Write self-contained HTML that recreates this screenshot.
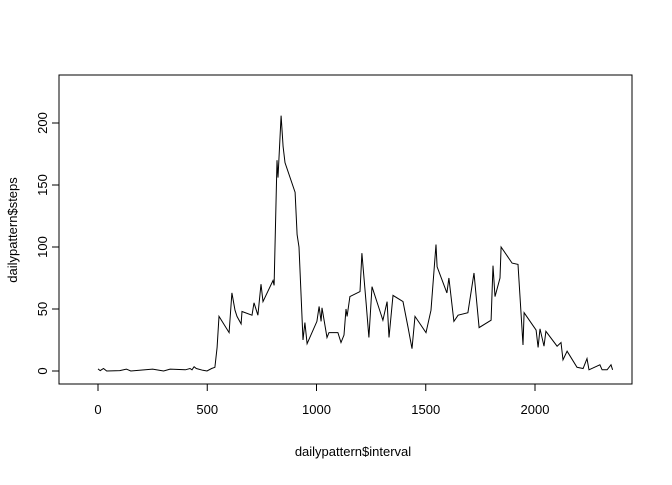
<!DOCTYPE html>
<html><head><meta charset="utf-8"><style>
body{margin:0;background:#fff}
svg text{font-family:"Liberation Sans",Arial,sans-serif;font-size:13px;fill:#000}
</style></head><body>
<svg width="672" height="480" id="c">
<rect x="59" y="75" width="573" height="309" fill="none" stroke="#000"/>
<g id="axes"></g>
<path id="line" fill="none" stroke="#000" stroke-width="1"/>
<text x="353" y="456" text-anchor="middle">dailypattern$interval</text>
<text transform="translate(17,230) rotate(-90)" text-anchor="middle">dailypattern$steps</text>
</svg>
<script>
const intervals=[0,10,25,40,100,130,150,250,300,330,400,421,430,440,450,480,499,520,535,545,554,600,613,627,636,655,659,705,714,732,746,755,801,806,819,824,838,847,856,902,911,920,938,947,957,1002,1012,1021,1025,1048,1057,1098,1112,1126,1135,1140,1153,1199,1208,1227,1240,1254,1304,1323,1332,1350,1396,1419,1437,1451,1501,1524,1547,1552,1597,1606,1629,1648,1693,1721,1744,1799,1808,1817,1840,1845,1895,1922,1945,1950,2005,2014,2023,2041,2050,2101,2119,2128,2147,2192,2220,2238,2247,2297,2307,2330,2348,2355];
const steps=[1.7,0.3,2,0,0.3,1.5,0,1.5,0,1.5,1,2,1,3.5,2,0.6,0,2,3,19,44,31,63,49,44,38,48,45,55,45,70,56,73,69,170,156,206,181,168,144,110,100,25,39,22,40,52,40,51,27,31,31,23,29,50,44,60,64,95,55,27,68,41,56,27,61,56,35,18,44,31,49,102,84,63,75,40,45,47,79,35,41,85,60,75,100,87,86,21,47,33,19,34,20,32,20,23,9,16,3,2,10,1,5,1,1,5,1];
const xTicks=[0,500,1000,1500,2000];
const yTicks=[0,50,100,150,200];
const X=v=>98+v*0.2185, Y=v=>371-v*1.24;
const ns="http://www.w3.org/2000/svg", g=document.getElementById('axes');
function el(t,a){const e=document.createElementNS(ns,t);for(const k in a)e.setAttribute(k,a[k]);g.appendChild(e);return e;}
let ax=el('line',{x1:X(0),x2:X(2000),y1:384,y2:384,stroke:'#000'});


xTicks.forEach(t=>{const l=el('line',{x1:X(t),x2:X(t),y1:384,y2:391,stroke:'#000'});


const tx=el('text',{x:X(t),y:414,'text-anchor':'middle'});tx.textContent=t;

});
let ay=el('line',{x1:59,x2:59,y1:Y(0),y2:Y(200),stroke:'#000'});


yTicks.forEach(t=>{const l=el('line',{x1:52,x2:59,y1:Y(t),y2:Y(t),stroke:'#000'});


const tx=el('text',{transform:`translate(47,${Y(t)}) rotate(-90)`,'text-anchor':'middle'});tx.textContent=t;

});
document.getElementById('line').setAttribute('d',intervals.map((v,i)=>(i?'L':'M')+X(v).toFixed(1)+','+Y(steps[i]).toFixed(1)).join(''));
</script>
</body></html>
